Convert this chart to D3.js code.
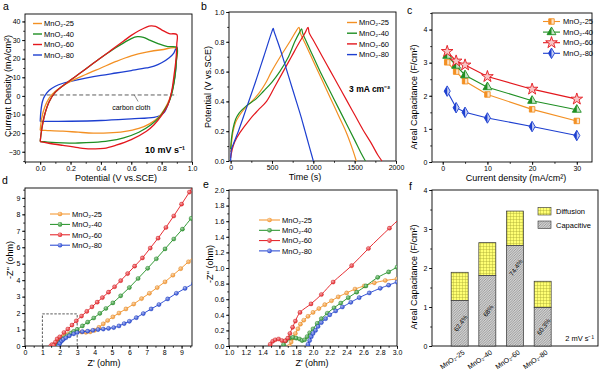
<!DOCTYPE html>
<html>
<head>
<meta charset="utf-8">
<script src="https://cdn.jsdelivr.net/npm/d3@7"></script>
<style>
body { margin: 0; background: #fff; }
svg { display: block; font-family: "Liberation Sans", Arial, sans-serif; }
.tick text { font-size: 7px; fill: #000; }
.tick line { stroke: #000; stroke-width: 0.8; }
.axlab { font-size: 9px; }
.leg { font-size: 7.5px; }
.plab { font-size: 10.5px; }
</style>
</head>
<body>
<svg id="chart" width="600" height="371"></svg>
<script>
seriesNames = ["MnO₂-25", "MnO₂-40", "MnO₂-60", "MnO₂-80"];
seriesColours = ["#f39023", "#1f8f23", "#e3171d", "#1d3fd0"];

// a: CV loops at 10 mV/s, [potential V, current mA/cm2]
cv25 = [[0,-18.5],[0.01,-12],[0.03,-6],[0.06,-1],[0.1,2.5],[0.15,5.5],[0.2,7.8],[0.3,11.5],[0.4,15],[0.5,18.5],[0.6,21.5],[0.7,23.5],[0.8,24.8],[0.9,25.5],
  [0.895,18],[0.885,10],[0.87,3],[0.85,-2],[0.82,-7],[0.78,-11.5],[0.72,-15],[0.65,-17.5],[0.55,-19.2],[0.45,-19.9],[0.35,-20],[0.25,-19.5],[0.15,-18.9],[0.05,-18.6],[0,-18.5]];
cv40 = [[0,-24.5],[0.01,-18],[0.03,-10],[0.06,-3],[0.1,2],[0.15,5.5],[0.2,8.5],[0.25,11.5],[0.3,14.5],[0.35,17.5],[0.4,20.5],[0.45,23.3],[0.5,26],[0.55,28.5],[0.6,30.8],[0.64,31.8],[0.68,31.5],[0.72,30],[0.78,28],[0.84,26.5],[0.9,26],
  [0.898,20],[0.89,12],[0.875,4],[0.855,-2],[0.83,-6],[0.79,-11],[0.73,-15.5],[0.65,-19.5],[0.55,-22.5],[0.45,-24.2],[0.35,-25],[0.25,-25.3],[0.15,-25.2],[0.05,-24.8],[0,-24.5]];
cv60 = [[0,-24.5],[0.01,-18],[0.03,-10],[0.06,-3],[0.1,2],[0.15,5.5],[0.2,8.5],[0.25,11.5],[0.3,14.5],[0.35,17.5],[0.4,20.5],[0.45,23.5],[0.5,26.5],[0.55,29.5],[0.6,32.5],[0.65,35],[0.7,37],[0.73,37.6],[0.76,37.3],[0.8,35.5],[0.85,33.5],[0.9,33],
  [0.9,28],[0.895,20],[0.88,10],[0.865,2],[0.84,-5],[0.8,-10.5],[0.75,-15.5],[0.7,-19],[0.6,-23.5],[0.5,-26.5],[0.42,-28.2],[0.33,-28.4],[0.25,-27.8],[0.15,-26.6],[0.05,-25.3],[0,-24.5]];
cv80 = [[0,-13.7],[0.005,-8],[0.015,-3],[0.03,0],[0.06,3],[0.1,5.2],[0.15,6.8],[0.2,7.8],[0.3,9.5],[0.4,11],[0.5,12.3],[0.6,13.6],[0.7,15],[0.75,16],[0.8,17.8],[0.85,20.5],[0.88,23],[0.9,26.5],
  [0.898,20],[0.89,12],[0.875,5],[0.86,0],[0.84,-5],[0.82,-8.5],[0.79,-10.5],[0.75,-11.5],[0.6,-12.3],[0.4,-13.2],[0.2,-13.6],[0,-13.7]];
carbonCloth = [[0, 0.5], [0.9, 0.5]];

// b: charge-discharge at 3 mA/cm2, [time s, potential V]
gcd25 = [[0,0.06],[10,0.12],[30,0.2],[60,0.26],[100,0.3],[150,0.34],[200,0.37],[273,0.41],[350,0.46],[420,0.52],[494,0.6],[600,0.7],[715,0.8],[790,0.87],[826,0.897],
  [842,0.86],[900,0.79],[1000,0.67],[1100,0.55],[1200,0.43],[1300,0.31],[1400,0.19],[1480,0.07],[1520,0]];
gcd40 = [[0,0.08],[10,0.15],[30,0.22],[60,0.28],[100,0.32],[150,0.35],[200,0.375],[293,0.41],[400,0.47],[500,0.53],[594,0.6],[700,0.7],[775,0.8],[830,0.86],[858,0.887],
  [870,0.86],[900,0.82],[1000,0.7],[1100,0.58],[1200,0.47],[1300,0.36],[1400,0.25],[1500,0.14],[1580,0.05],[1630,0]];
gcd60 = [[0,0.02],[20,0.08],[50,0.13],[112,0.19],[233,0.28],[330,0.34],[434,0.4],[535,0.5],[635,0.6],[735,0.7],[835,0.8],[900,0.86],[936,0.897],
  [950,0.86],[1000,0.81],[1100,0.71],[1200,0.61],[1300,0.51],[1400,0.41],[1500,0.31],[1600,0.21],[1700,0.12],[1780,0.04],[1830,0]];
gcd80 = [[0,0],[10,0.08],[30,0.11],[100,0.21],[200,0.37],[300,0.53],[400,0.7],[500,0.87],[515,0.89],
  [525,0.87],[550,0.83],[600,0.75],[650,0.66],[700,0.57],[750,0.48],[800,0.39],[850,0.3],[900,0.2],[950,0.1],[985,0.03],[1000,0]];

// c: rate capability
currentDensity = [1, 3, 5, 10, 20, 30];
cap25 = [3.01, 2.73, 2.44, 2.04, 1.59, 1.24];
cap40 = [3.21, 2.91, 2.62, 2.26, 1.85, 1.58];
cap60 = [3.34, 3.05, 2.93, 2.58, 2.2, 1.9];
cap80 = [2.14, 1.64, 1.5, 1.33, 1.07, 0.8];

// d: Nyquist, [Z' ohm, -Z'' ohm]
eis25 = [[1.72,0],[1.76,0.1],[1.82,0.22],[1.89,0.33],[2.0,0.43],[2.14,0.53],[2.3,0.63],[2.5,0.73],[2.72,0.81],[3.0,0.86],[3.25,0.85],[3.5,0.83],[3.75,0.86],[4.0,0.95],[4.25,1.13],[4.5,1.35],[4.75,1.55],[5.05,1.77],[5.4,2.0],[5.8,2.25],[6.25,2.55],[6.7,2.88],[7.15,3.2],[7.6,3.55],[8.05,3.9],[8.5,4.3],[8.95,4.7],[9.4,5.12],[9.8,5.5]];
eis40 = [[1.65,0.02],[1.72,0.1],[1.8,0.1],[1.87,0.07],[1.93,0.12],[2.0,0.22],[2.1,0.35],[2.25,0.49],[2.42,0.62],[2.63,0.77],[2.8,0.89],[3.0,1.01],[3.3,1.22],[3.6,1.45],[3.95,1.7],[4.3,1.98],[4.65,2.28],[5.05,2.62],[5.5,3.05],[6.0,3.55],[6.5,4.1],[7.05,4.72],[7.55,5.3],[8.05,5.9],[8.55,6.5],[9.05,7.1],[9.55,7.75],[9.8,8.05]];
eis60 = [[1.48,0],[1.55,0.08],[1.65,0.06],[1.75,0.24],[1.85,0.43],[2.0,0.56],[2.24,0.82],[2.46,1.03],[2.7,1.27],[2.95,1.53],[3.25,1.82],[3.55,2.1],[3.85,2.38],[4.15,2.66],[4.45,2.94],[4.8,3.27],[5.15,3.6],[5.5,3.97],[5.9,4.4],[6.3,4.85],[6.75,5.35],[7.2,5.95],[7.65,6.55],[8.1,7.2],[8.55,7.9],[9.0,8.62],[9.45,9.35],[9.7,9.8]];
eis80 = [[1.94,0.02],[2.0,0.16],[2.1,0.3],[2.2,0.4],[2.35,0.5],[2.55,0.62],[2.8,0.74],[3.0,0.82],[3.3,0.87],[3.6,0.9],[3.9,0.95],[4.2,1.0],[4.5,1.03],[4.8,1.07],[5.1,1.12],[5.4,1.22],[5.7,1.36],[6.0,1.5],[6.4,1.72],[6.8,1.97],[7.25,2.25],[7.7,2.52],[8.2,2.86],[8.7,3.2],[9.2,3.5],[9.7,3.8]];
zoomBox = [[1, 0], [1, 1.95], [3, 1.95], [3, 0]];

// e: Nyquist, high frequency region
hf25 = [[1.72,0],[1.74,0.05],[1.76,0.1],[1.79,0.16],[1.82,0.22],[1.85,0.28],[1.89,0.33],[1.94,0.38],[2.0,0.43],[2.07,0.48],[2.14,0.53],[2.22,0.58],[2.3,0.63],[2.4,0.68],[2.5,0.73],[2.61,0.77],[2.73,0.81],[2.86,0.84],[3.0,0.86],[3.1,0.87]];
hf40 = [[1.65,0.02],[1.68,0.07],[1.72,0.1],[1.76,0.11],[1.8,0.1],[1.84,0.09],[1.87,0.07],[1.9,0.08],[1.93,0.12],[1.96,0.17],[2.0,0.22],[2.05,0.29],[2.1,0.35],[2.17,0.42],[2.25,0.49],[2.33,0.55],[2.42,0.62],[2.52,0.69],[2.63,0.77],[2.77,0.88],[2.9,0.95],[3.0,1.01],[3.1,1.06]];
hf60 = [[1.49,0.02],[1.52,0.06],[1.55,0.08],[1.59,0.09],[1.63,0.07],[1.67,0.065],[1.70,0.1],[1.725,0.16],[1.757,0.24],[1.79,0.32],[1.845,0.43],[1.976,0.54],[2.1,0.66],[2.24,0.82],[2.46,1.03],[2.66,1.25],[2.91,1.51],[3.1,1.7]];
hf80 = [[1.94,0.02],[1.96,0.07],[1.98,0.12],[2.0,0.16],[2.03,0.2],[2.06,0.25],[2.1,0.3],[2.15,0.35],[2.2,0.4],[2.27,0.45],[2.35,0.5],[2.45,0.56],[2.55,0.62],[2.67,0.68],[2.8,0.74],[2.9,0.78],[3.0,0.82],[3.1,0.85]];

// f: capacitance contributions at 2 mV/s
sampleNames = ["MnO₂-25", "MnO₂-40", "MnO₂-60", "MnO₂-80"];
totalCap = [1.89, 2.65, 3.46, 1.66];
capacitiveCap = [1.17, 1.81, 2.58, 0.99];
capacitiveLabels = ["62.4%", "68%", "74.4%", "60.3%"];

// tick labels
aXTicks = [0, 0.2, 0.4, 0.6, 0.8, 1.0];
aYTicks = [-30, -20, -10, 0, 10, 20, 30, 40];
bXTicks = [0, 500, 1000, 1500, 2000];
bYTicks = [0, 0.2, 0.4, 0.6, 0.8, 1.0];
cXTicks = [0, 10, 20, 30];
cYTicks = [0, 1, 2, 3, 4];
dTicks = [0, 1, 2, 3, 4, 5, 6, 7, 8, 9];
eXTicks = [1.0, 1.2, 1.4, 1.6, 1.8, 2.0, 2.2, 2.4, 2.6, 2.8, 3.0];
eYTicks = [0, 0.2, 0.4, 0.6, 0.8, 1.0, 1.2, 1.4, 1.6, 1.8, 2.0];
fYTicks = [0, 1, 2, 3, 4];

svg = d3.select("#chart");
defs = svg.append("defs");

// fill patterns for f
pat = defs.append("pattern").attr("id", "grid").attr("patternUnits", "userSpaceOnUse")
    .attr("width", 3).attr("height", 3);
pat.append("rect").attr("width", 3).attr("height", 3).attr("fill", "#ffff73");
pat.append("path").attr("d", "M0,0.3H3M0.3,0V3").attr("stroke", "#a8a830").attr("stroke-width", 0.5);
pat2 = defs.append("pattern").attr("id", "hatch").attr("patternUnits", "userSpaceOnUse")
    .attr("width", 2.5).attr("height", 2.5);
pat2.append("rect").attr("width", 2.5).attr("height", 2.5).attr("fill", "#d2d2d2");
pat2.append("path").attr("d", "M0,2.5L2.5,0M-0.5,0.5L0.5,-0.5M2,3L3,2").attr("stroke", "#6e6e6e").attr("stroke-width", 0.55);
// left half clip for markers
defs.append("clipPath").attr("id", "halfLeft")
    .append("rect").attr("x", -10).attr("y", -10).attr("width", 10).attr("height", 20);
// shaded balls for the impedance markers
seriesColours.forEach(function (c, i) {
    var rg = defs.append("radialGradient").attr("id", "ball" + i)
        .attr("cx", "45%").attr("cy", "45%").attr("r", "60%").attr("fx", "35%").attr("fy", "30%");
    rg.append("stop").attr("offset", "0%").attr("stop-color", d3.interpolateRgb(c, "#fff")(0.65));
    rg.append("stop").attr("offset", "100%").attr("stop-color", c);
});

function minorTicks(lo, hi, step) {
    var t = [];
    for (var v = lo; v <= hi + 1e-9; v += step) t.push(+v.toFixed(4));
    return t;
}

function makePanel(p) {
    var g = svg.append("g");
    var x = d3.scaleLinear().domain(p.xd).range([p.x0, p.x1]);
    var y = d3.scaleLinear().domain(p.yd).range([p.y1, p.y0]);
    if (p.xMajor) {
        g.append("g").attr("transform", "translate(0," + p.y1 + ")")
            .call(d3.axisBottom(x).tickValues(p.xMinor).tickSize(1.8).tickFormat(""));
        g.append("g").attr("transform", "translate(0," + p.y1 + ")")
            .call(d3.axisBottom(x).tickValues(p.xMajor).tickSize(3).tickPadding(1).tickFormat(p.xFmt));
    }
    g.append("g").attr("transform", "translate(" + p.x0 + ",0)")
        .call(d3.axisLeft(y).tickValues(p.yMinor).tickSize(1.8).tickFormat(""));
    g.append("g").attr("transform", "translate(" + p.x0 + ",0)")
        .call(d3.axisLeft(y).tickValues(p.yMajor).tickSize(3).tickPadding(1.5).tickFormat(p.yFmt));
    g.selectAll(".domain").remove();
    g.selectAll(".tick text").attr("font-family", null).attr("font-size", null);
    g.append("rect")
        .attr("x", p.x0).attr("y", p.y0)
        .attr("width", p.x1 - p.x0).attr("height", p.y1 - p.y0)
        .attr("fill", "none").attr("stroke", "#000").attr("stroke-width", 0.9);
    defs.append("clipPath").attr("id", p.id)
        .append("rect").attr("x", p.x0).attr("y", p.y0)
        .attr("width", p.x1 - p.x0).attr("height", p.y1 - p.y0);
    // labels
    g.append("text").attr("class", "axlab")
        .attr("transform", "translate(" + p.ylx + "," + p.yly + ") rotate(-90)")
        .style("text-anchor", "middle").text(p.ylab);
    if (p.xlab) {
        g.append("text").attr("class", "axlab")
            .attr("x", p.xlx).attr("y", p.xly)
            .style("text-anchor", "middle").text(p.xlab);
    }
    g.append("text").attr("class", "plab").attr("x", p.lx).attr("y", p.ly).text(p.letter);
    return {g: g, x: x, y: y};
}

function lineLegend(g, x0, y0, dy, len, withDot) {
    seriesNames.forEach(function (name, i) {
        var yy = y0 + i * dy;
        g.append("line").attr("x1", x0).attr("x2", x0 + len).attr("y1", yy).attr("y2", yy)
            .attr("stroke", seriesColours[i]).attr("stroke-width", withDot ? 1 : 1.4);
        if (withDot) {
            g.append("circle").attr("cx", x0 + len / 2).attr("cy", yy).attr("r", 2.3)
                .attr("fill", "url(#ball" + i + ")");
        }
        g.append("text").attr("class", "leg").attr("x", x0 + len + 2).attr("y", yy + 2.7).text(name);
    });
}

// ---------- a ----------
pa = makePanel({id: "clipA", x0: 25, x1: 192, y0: 14, y1: 162, xd: [-0.1, 1.0], yd: [-35.5, 44],
    xMajor: aXTicks, xMinor: minorTicks(-0.1, 1.0, 0.1), xFmt: d3.format(".1f"),
    yMajor: aYTicks, yMinor: minorTicks(-35, 40, 5), yFmt: d3.format("d"),
    ylab: "Current Density (mA/cm²)", ylx: 10.5, yly: 86,
    xlab: "Potential (V vs.SCE)", xlx: 116, xly: 181, letter: "a", lx: 3, ly: 10});
cvLine = d3.line().x(function (d) { return pa.x(d[0]); }).y(function (d) { return pa.y(d[1]); })
    .curve(d3.curveCatmullRom.alpha(0.5));
pa.g.append("path").attr("d", cvLine(carbonCloth)).attr("fill", "none")
    .attr("stroke", "#333").attr("stroke-width", 0.8).attr("stroke-dasharray", "4,2.5");
[[cv80, 3], [cv25, 0], [cv40, 1], [cv60, 2]].forEach(function (s) {
    pa.g.append("path").attr("d", cvLine(s[0])).attr("fill", "none")
        .attr("stroke", seriesColours[s[1]]).attr("stroke-width", 1.3);
});
pa.g.append("line").attr("x1", pa.x(0.62)).attr("y1", pa.y(0.5)).attr("x2", pa.x(0.645)).attr("y2", pa.y(-3))
    .attr("stroke", "#444").attr("stroke-width", 0.6);
pa.g.append("text").attr("x", pa.x(0.6)).attr("y", pa.y(-7.5)).style("text-anchor", "middle")
    .attr("font-size", 7).text("carbon cloth");
pa.g.append("text").attr("x", 185).attr("y", 153).style("text-anchor", "end")
    .attr("font-size", 9).attr("font-weight", "bold").text("10 mV s⁻¹");
lineLegend(pa.g, 33, 23.5, 10.5, 9, false);

// ---------- b ----------
pb = makePanel({id: "clipB", x0: 229, x1: 396, y0: 12, y1: 161, xd: [-20, 2000], yd: [0, 1.0],
    xMajor: bXTicks, xMinor: minorTicks(0, 2000, 250), xFmt: d3.format("d"),
    yMajor: bYTicks, yMinor: minorTicks(0, 1.0, 0.1), yFmt: d3.format(".1f"),
    ylab: "Potential (V vs.SCE)", ylx: 211, yly: 87,
    xlab: "Time (s)", xlx: 305, xly: 180, letter: "b", lx: 201, ly: 10});
gcdLine = d3.line().x(function (d) { return pb.x(d[0]); }).y(function (d) { return pb.y(d[1]); })
    .curve(d3.curveCatmullRom.alpha(0.5));
[[gcd25, 0], [gcd40, 1], [gcd60, 2], [gcd80, 3]].forEach(function (s) {
    pb.g.append("path").attr("d", gcdLine(s[0])).attr("fill", "none")
        .attr("stroke", seriesColours[s[1]]).attr("stroke-width", 1.2);
});
lineLegend(pb.g, 347, 22.5, 10.7, 10, false);
pb.g.append("text").attr("x", 390).attr("y", 92).style("text-anchor", "end")
    .attr("font-size", 8.5).attr("font-weight", "bold").text("3 mA cm⁻²");

// ---------- c ----------
pc = makePanel({id: "clipC", x0: 432, x1: 592, y0: 13, y1: 162, xd: [-2.4, 33.4], yd: [0, 4.5],
    xMajor: cXTicks, xMinor: minorTicks(0, 30, 5), xFmt: d3.format("d"),
    yMajor: cYTicks, yMinor: minorTicks(0, 4.5, 0.5), yFmt: d3.format("d"),
    ylab: "Areal Capacitance (F/cm²)", ylx: 416.5, yly: 97,
    xlab: "Current density (mA/cm²)", xlx: 516, xly: 181, letter: "c", lx: 407, ly: 14});
symbolsC = [d3.symbol(d3.symbolSquare, 30), d3.symbol(d3.symbolTriangle, 34),
    d3.symbol(d3.symbolStar, 42), d3.symbol(d3.symbolDiamond, 32)];
function halfMarker(g, cx, cy, i) {
    var mg = g.append("g").attr("transform", "translate(" + cx + "," + cy + ")");
    mg.append("path").attr("d", symbolsC[i]()).attr("fill", "#fff");
    mg.append("path").attr("d", symbolsC[i]()).attr("fill", seriesColours[i]).attr("fill-opacity", 0.25);
    if (i != 2) {
        mg.append("path").attr("d", symbolsC[i]()).attr("fill", seriesColours[i]).attr("clip-path", "url(#halfLeft)");
    }
    mg.append("path").attr("d", symbolsC[i]()).attr("fill", "none")
        .attr("stroke", seriesColours[i]).attr("stroke-width", 0.9);
}
[cap25, cap40, cap60, cap80].forEach(function (vals, i) {
    var pts = currentDensity.map(function (c, k) { return [c, vals[k]]; });
    pc.g.append("path")
        .attr("d", d3.line().x(function (d) { return pc.x(d[0]); }).y(function (d) { return pc.y(d[1]); })(pts))
        .attr("fill", "none").attr("stroke", seriesColours[i]).attr("stroke-width", 1.1);
    pts.forEach(function (d) { halfMarker(pc.g, pc.x(d[0]), pc.y(d[1]), i); });
});
seriesNames.forEach(function (name, i) {
    var yy = 21.5 + i * 10.6;
    pc.g.append("line").attr("x1", 543).attr("x2", 560).attr("y1", yy).attr("y2", yy)
        .attr("stroke", seriesColours[i]).attr("stroke-width", 1.1);
    halfMarker(pc.g, 551.5, yy, i);
    pc.g.append("text").attr("class", "leg").attr("x", 563).attr("y", yy + 2.7).text(name);
});

// ---------- d ----------
pd = makePanel({id: "clipD", x0: 25, x1: 192, y0: 188, y1: 346, xd: [0, 9.6], yd: [0, 9.6],
    xMajor: dTicks, xMinor: minorTicks(0, 9.5, 0.5), xFmt: d3.format("d"),
    yMajor: dTicks, yMinor: minorTicks(0, 9.5, 0.5), yFmt: d3.format("d"),
    ylab: "-Z'' (ohm)", ylx: 12.5, yly: 260,
    xlab: "Z' (ohm)", xlx: 104, xly: 366, letter: "d", lx: 2, ly: 184});
boxLine = d3.line().x(function (d) { return pd.x(d[0]); }).y(function (d) { return pd.y(d[1]); });
pd.g.append("path").attr("d", boxLine(zoomBox)).attr("fill", "none")
    .attr("stroke", "#333").attr("stroke-width", 0.8).attr("stroke-dasharray", "2.5,1.5");
function nyquist(panel, clipId, sets, r) {
    var ln = d3.line().x(function (d) { return panel.x(d[0]); }).y(function (d) { return panel.y(d[1]); })
        .curve(d3.curveCatmullRom.alpha(0.5));
    var cg = panel.g.append("g").attr("clip-path", "url(#" + clipId + ")");
    sets.forEach(function (pts, i) {
        cg.append("path").attr("d", ln(pts)).attr("fill", "none")
            .attr("stroke", seriesColours[i]).attr("stroke-width", 0.9);
        cg.selectAll(null).data(pts).enter().append("circle")
            .attr("cx", function (d) { return panel.x(d[0]); })
            .attr("cy", function (d) { return panel.y(d[1]); })
            .attr("r", r).attr("fill", "url(#ball" + i + ")")
            .attr("stroke", d3.color(seriesColours[i]).darker(0.4)).attr("stroke-width", 0.3);
    });
}
nyquist(pd, "clipD", [eis25, eis40, eis60, eis80], 2.1);
lineLegend(pd.g, 50, 214, 10.4, 20, true);

// ---------- e ----------
pe = makePanel({id: "clipE", x0: 229, x1: 397, y0: 190, y1: 346, xd: [1, 3], yd: [0, 2],
    xMajor: eXTicks, xMinor: minorTicks(1, 3, 0.1), xFmt: d3.format(".1f"),
    yMajor: eYTicks, yMinor: minorTicks(0, 2, 0.1), yFmt: d3.format(".1f"),
    ylab: "-Z'' (ohm)", ylx: 212.5, yly: 264,
    xlab: "Z' (ohm)", xlx: 312, xly: 366, letter: "e", lx: 203, ly: 188});
nyquist(pe, "clipE", [hf25, hf40, hf60, hf80], 2.1);
lineLegend(pe.g, 259, 220, 10.3, 21, true);

// ---------- f ----------
pf = makePanel({id: "clipF", x0: 432, x1: 598, y0: 190, y1: 346, xd: [0, 6], yd: [0, 4],
    xMajor: null, yMajor: fYTicks, yMinor: minorTicks(0, 4, 0.5), yFmt: d3.format("d"),
    ylab: "Areal Capacitance (F/cm²)", ylx: 416.5, yly: 277,
    xlab: null, letter: "f", lx: 409, ly: 190});
barW = 17;
sampleNames.forEach(function (name, i) {
    var cx = pf.x(i + 1);
    pf.g.append("rect").attr("x", cx - barW / 2).attr("width", barW)
        .attr("y", pf.y(totalCap[i])).attr("height", pf.y(capacitiveCap[i]) - pf.y(totalCap[i]))
        .attr("fill", "url(#grid)").attr("stroke", "#333").attr("stroke-width", 0.7);
    pf.g.append("rect").attr("x", cx - barW / 2).attr("width", barW)
        .attr("y", pf.y(capacitiveCap[i])).attr("height", pf.y(0) - pf.y(capacitiveCap[i]))
        .attr("fill", "url(#hatch)").attr("stroke", "#333").attr("stroke-width", 0.7);
    var ly = pf.y(capacitiveCap[i] * (i == 2 ? 0.78 : 0.5));
    pf.g.append("text").attr("transform", "translate(" + (cx + 1) + "," + ly + ") rotate(-55)")
        .style("text-anchor", "middle").attr("dy", "0.35em").attr("font-size", 6.5).text(capacitiveLabels[i]);
    pf.g.append("text").attr("transform", "translate(" + (cx + 3) + ",350) rotate(-35)")
        .style("text-anchor", "end").attr("dy", "0.6em").attr("font-size", 7).text(name);
});
[["url(#grid)", "Diffusion", 207.5], ["url(#hatch)", "Capacitive", 221]].forEach(function (l) {
    pf.g.append("rect").attr("x", 538).attr("y", l[2]).attr("width", 13).attr("height", 7.5)
        .attr("fill", l[0]).attr("stroke", "#333").attr("stroke-width", 0.6);
    pf.g.append("text").attr("class", "leg").attr("x", 556).attr("y", l[2] + 6.5).text(l[1]);
});
pf.g.append("text").attr("x", 594).attr("y", 341).style("text-anchor", "end")
    .attr("font-size", 7.5).text("2 mV s⁻¹");
</script>
</body>
</html>
